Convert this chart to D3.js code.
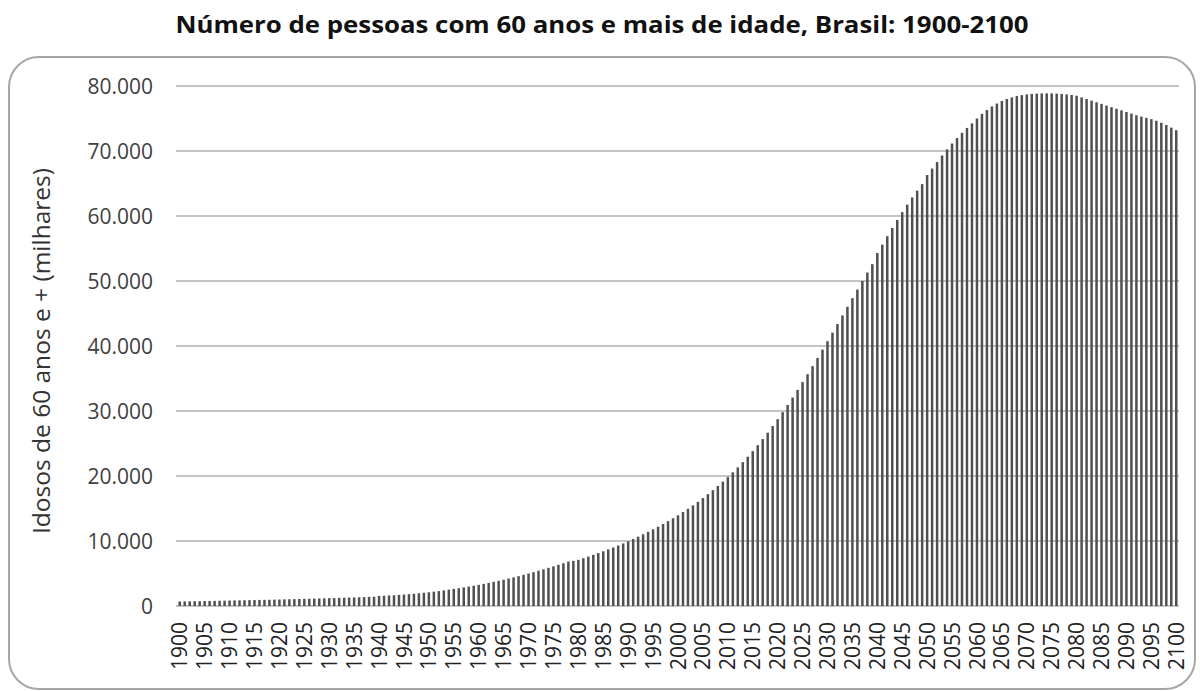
<!DOCTYPE html>
<html>
<head>
<meta charset="utf-8">
<script src="https://cdn.jsdelivr.net/npm/d3@7"></script>
<style>
  body { margin: 0; background: #fff; }
  text { font-family: "Open Sans", "Noto Sans", sans-serif; }
</style>
</head>
<body>
<svg width="1203" height="691"></svg>
<script>
// idosos de 60 anos e + (milhares), um valor por ano, 1900..2100
const values1900s = [700, 710, 720, 735, 750, 765, 780, 795, 810, 825,
  840, 855, 870, 885, 900, 915, 930, 945, 960, 980,
  1000, 1020, 1040, 1060, 1080, 1100, 1120, 1140, 1160, 1180,
  1200, 1220, 1245, 1270, 1295, 1320, 1345, 1370, 1400, 1430,
  1550, 1580, 1620, 1660, 1710, 1760, 1820, 1880, 1950, 2030,
  2110, 2200, 2300, 2400, 2510, 2620, 2740, 2860, 2990, 3120,
  3260, 3400, 3550, 3710, 3870, 4040, 4220, 4400, 4590, 4790,
  5000, 5200, 5420, 5640, 5870, 6100, 6340, 6580, 6830, 6950,
  7100, 7350, 7600, 7870, 8140, 8420, 8710, 9000, 9300, 9620,
  9950, 10300, 10660, 11030, 11410, 11800, 12200, 12620, 13050, 13500];
const values2000s = [13950, 14450, 14950, 15480, 16030, 16600, 17200, 17820, 18460, 19130,
  19830, 20560, 21330, 22130, 22960, 23830, 24740, 25680, 26660, 27680,
  28740, 29820, 30930, 32070, 33240, 34440, 35660, 36900, 38160, 39440,
  40740, 42050, 43370, 44700, 46030, 47360, 48680, 50000, 51300, 52590,
  54300, 55600, 56900, 58150, 59400, 60600, 61750, 62850, 63900, 64900,
  66300, 67300, 68300, 69300, 70250, 71150, 72000, 72800, 73550, 74250,
  75000, 75700, 76300, 76850, 77300, 77700, 78000, 78250, 78450, 78600,
  78700, 78780, 78830, 78860, 78870, 78860, 78830, 78780, 78710, 78620,
  78500, 78250, 78000, 77750, 77500, 77250, 77000, 76750, 76500, 76250,
  76000, 75750, 75500, 75300, 75100, 74900, 74650, 74350, 74000, 73600,
  73200];
const years = d3.range(1900, 2101);
const yTicks = [0, 10000, 20000, 30000, 40000, 50000, 60000, 70000, 80000];
const xTickYears = d3.range(1900, 2101, 5);

const title = "Número de pessoas com 60 anos e mais de idade, Brasil: 1900-2100";
const yTitle = "Idosos de 60 anos e + (milhares)";

const data = years.map((yr, i) => ({ year: yr, value: values1900s.concat(values2000s)[i] }));

const svg = d3.select("svg");

// moldura arredondada
svg.append("rect")
  .attr("x", 9).attr("y", 57)
  .attr("width", 1186).attr("height", 632)
  .attr("rx", 30).attr("ry", 30)
  .attr("fill", "none")
  .attr("stroke", "#a6a6a6")
  .attr("stroke-width", 2);

svg.append("text")
  .attr("x", 602).attr("y", 33)
  .attr("text-anchor", "middle")
  .attr("font-size", 24)
  .attr("font-weight", "bold")
  .attr("fill", "#111")
  .attr("textLength", 853)
  .attr("lengthAdjust", "spacingAndGlyphs")
  .text(title);

const x = d3.scaleBand()
  .domain(years)
  .range([176, 1180])
  .padding(0.5);

const y = d3.scaleLinear()
  .domain([0, 80000])
  .range([606, 86]);

// grade
svg.append("g")
  .selectAll("line")
  .data(yTicks)
  .join("line")
  .attr("x1", 176).attr("x2", 1179)
  .attr("y1", d => y(d)).attr("y2", d => y(d))
  .attr("stroke", "#c4c4c4")
  .attr("stroke-width", 2);

const fmt = d3.formatLocale({ decimal: ",", thousands: ".", grouping: [3], currency: ["", ""] }).format(",");

svg.append("g")
  .selectAll("text")
  .data(yTicks)
  .join("text")
  .attr("x", 153)
  .attr("y", d => y(d))
  .attr("dy", "0.36em")
  .attr("text-anchor", "end")
  .attr("font-size", 21)
  .attr("fill", "#404040")
  .text(d => fmt(d));

svg.append("g")
  .selectAll("rect")
  .data(data)
  .join("rect")
  .attr("x", d => x(d.year))
  .attr("y", d => y(d.value))
  .attr("width", x.bandwidth())
  .attr("height", d => y(0) - y(d.value))
  .attr("fill", "#505050");

svg.append("g")
  .selectAll("text")
  .data(xTickYears)
  .join("text")
  .attr("transform", d => `translate(${x(d) + x.bandwidth() / 2},622) rotate(-90)`)
  .attr("dy", "0.36em")
  .attr("text-anchor", "end")
  .attr("font-size", 21)
  .attr("fill", "#222")
  .text(d => d);

svg.append("text")
  .attr("transform", "translate(42,351) rotate(-90)")
  .attr("dy", "0.36em")
  .attr("text-anchor", "middle")
  .attr("font-size", 23)
  .attr("fill", "#333")
  .attr("textLength", 366)
  .attr("lengthAdjust", "spacingAndGlyphs")
  .text(yTitle);
</script>
</body>
</html>
